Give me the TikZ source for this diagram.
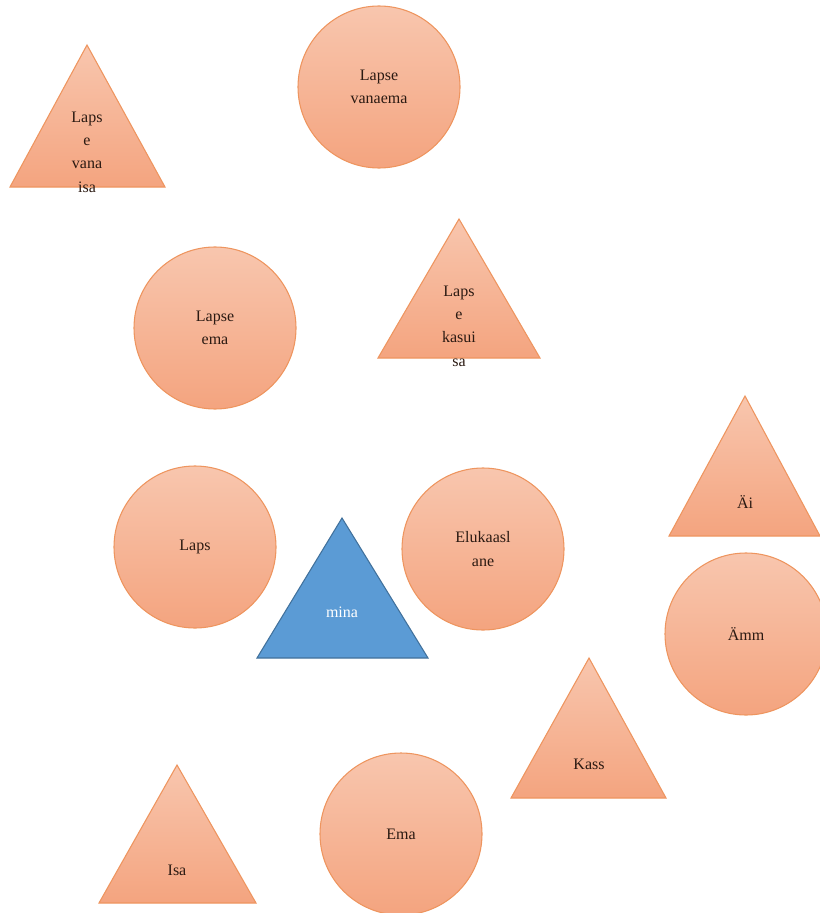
\documentclass[tikz,border=0pt]{standalone}
\usepackage{fontspec}
\setmainfont{Liberation Serif}
\definecolor{peachtop}{HTML}{F8C6AE}
\definecolor{peachbot}{HTML}{F4A47F}
\definecolor{peachline}{HTML}{EE955F}
\definecolor{txt}{HTML}{2B1A12}
\definecolor{bluefill}{HTML}{5B9BD5}
\definecolor{blueline}{HTML}{41719C}
\begin{document}
\begin{tikzpicture}[x=0.75pt,y=-0.75pt,
  peach/.style={draw=peachline, line width=0.8pt, top color=peachtop, bottom color=peachbot},
  circ/.style={peach, circle, minimum size=121.5pt, inner sep=0pt, font=\fontsize{12}{17.5}\selectfont, text=txt, align=center},
  lbl/.style={font=\fontsize{12}{17.5}\selectfont, text=txt, align=center, inner sep=0pt}]
\useasboundingbox (0,0) rectangle (820,913);

% circles
\node[circ] (vanaema) at (379,87) {Lapse\\vanaema};
\node[circ] (lapseema) at (215,328) {Lapse\\ema};
\node[circ] (laps) at (195,547) {Laps};
\node[circ] (elukaaslane) at (483,549) {Elukaasl\\ane};
\node[circ] (amm) at (746,634) {Ämm};
\node[circ] (ema) at (401,834) {Ema};

% triangles
\path[peach] (87,45) -- (165,187) -- (10,187) -- cycle;
\node[lbl] (vanaisa) at (87,152) {Laps\\e\\vana\\isa};

\path[peach] (459,219) -- (540,358) -- (378,358) -- cycle;
\node[lbl] (kasuisa) at (459,326) {Laps\\e\\kasui\\sa};

\path[peach] (745,396) -- (820,536) -- (669,536) -- cycle;
\node[lbl] (ai) at (745,502) {Äi};

\path[draw=blueline, line width=0.8pt, fill=bluefill] (342,518) -- (428,658) -- (257,658) -- cycle;
\node[lbl, text=white] (mina) at (342,612) {mina};

\path[peach] (589,658) -- (666,798) -- (511,798) -- cycle;
\node[lbl] (kass) at (589,764) {Kass};

\path[peach] (177,765) -- (256,903) -- (99,903) -- cycle;
\node[lbl] (isa) at (177,870) {Isa};
\end{tikzpicture}
\end{document}
